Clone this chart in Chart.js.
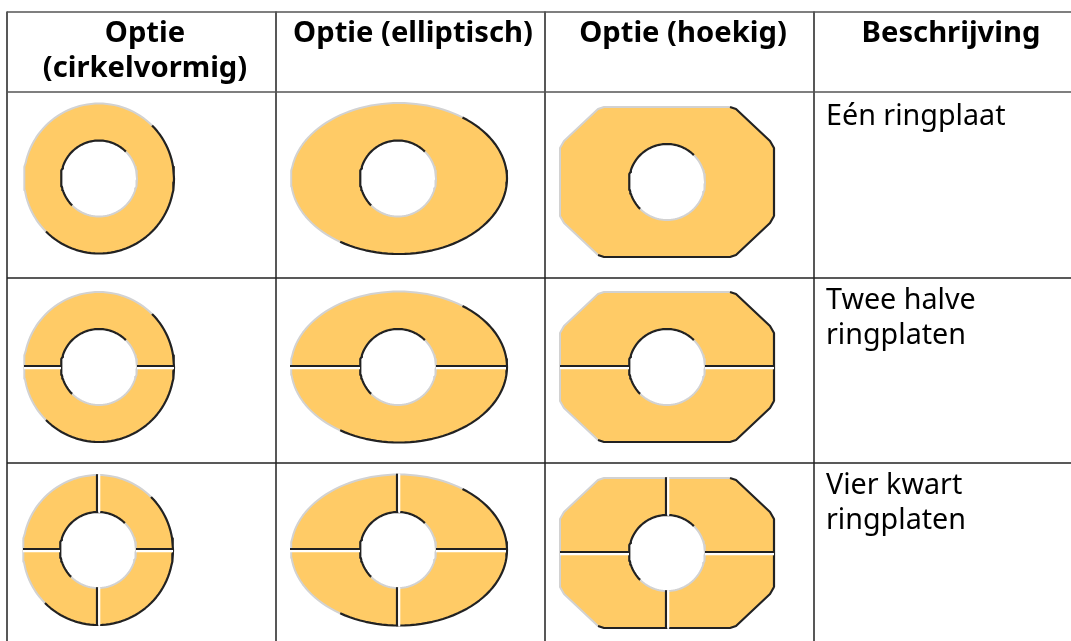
<!DOCTYPE html>
<html><head><meta charset="utf-8">
<style>html,body{margin:0;padding:0;background:#fff;overflow:hidden}canvas{display:block}</style>
<script src="https://cdn.jsdelivr.net/npm/chart.js@4"></script></head>
<body><canvas id="c" width="1071" height="641"></canvas>
<script>
const headerLabels = [["Optie","(cirkelvormig)"],["Optie (elliptisch)"],["Optie (hoekig)"],["Beschrijving"]];
const headerCentersX = [145,413,683,951];
const descriptions = [["Eén ringplaat"],["Twee halve","ringplaten"],["Vier kwart","ringplaten"]];
const descriptionBaselines = [125,309,494];
const descriptionX = 826;
const columnLinesX = [7,276,545,814];
const rowLinesY = [12,92,278,463];
const rowLineColors = ["#555555","#555555","#222222","#222222"];
const centersCircle = [[99,178.5],[99,367],[98,550]];
const centersEllipse = [[399,178.5],[399,367],[399,550]];
const centersOctagon = [[667,182],[667,367],[667,553]];
const radiusCircle = [75,75];
const radiusEllipse = [108,75.5];
const holeRadius = 38;
const slitCounts = [0,2,4];
const octagonShadow = [[63,-75],[69,-73],[103,-41],[107,-34],[107,34],[103,41],[69,73],[63,75],[-63,75],[-69,73]];
const octagonLight = [[-69,73],[-103,41],[-107,34],[-107,-34],[-103,-41],[-69,-73],[-63,-75],[63,-75]];
const PLATE="#FFCB66", DARK="#222222", LIGHT="#D2D2D2", RULE="#222222";

const ds=[];
function line(data,color,width,fillColor){
  ds.push({data,showLine:true,fill:fillColor?'shape':false,backgroundColor:fillColor||'transparent',
    borderColor:color,borderWidth:width,pointRadius:0,pointHoverRadius:0,tension:0,borderCapStyle:'butt',borderJoinStyle:'round'});
}
function arc(c,rx,ry,a0,a1){
  const pts=[];
  for(let a=a0;a<=a1+0.001;a+=3){const t=a*Math.PI/180;pts.push({x:c[0]+rx*Math.cos(t),y:c[1]+ry*Math.sin(t)});}
  return pts;
}
function offs(c,list){return list.map(p=>({x:c[0]+p[0],y:c[1]+p[1]}));}
function hole(c){
  line(arc(c,holeRadius,holeRadius,0,360),'transparent',0,'#FFFFFF');
  line(arc(c,holeRadius,holeRadius,-45,135),LIGHT,2);
  line(arc(c,holeRadius,holeRadius,135,315),DARK,2.2);
}
function slits(c,n,hw,hh){
  if(n<2) return;
  [[-hw,-holeRadius],[holeRadius,hw]].forEach(s=>{
    line([{x:c[0]+s[0],y:c[1]-1},{x:c[0]+s[1],y:c[1]-1}],DARK,2.2);
    line([{x:c[0]+s[0],y:c[1]+1.2},{x:c[0]+s[1],y:c[1]+1.2}],'#FFFFFF',2.2);
  });
  if(n<4) return;
  [[-hh,-holeRadius],[holeRadius,hh]].forEach(s=>{
    line([{x:c[0]-1,y:c[1]+s[0]},{x:c[0]-1,y:c[1]+s[1]}],DARK,2.2);
    line([{x:c[0]+1.2,y:c[1]+s[0]},{x:c[0]+1.2,y:c[1]+s[1]}],'#FFFFFF',2.2);
  });
}
columnLinesX.forEach(x=>line([{x,y:rowLinesY[0]},{x,y:641}],RULE,1.5));
rowLinesY.forEach((y,i)=>line([{x:columnLinesX[0],y},{x:1071,y}],rowLineColors[i],1.5));
[[centersCircle,radiusCircle,[-45,135,315],0],[centersEllipse,radiusEllipse,[-54,123,306],1]].forEach(([cs,r,a,shift])=>{
  cs.forEach((c,i)=>{
    line(arc(c,r[0],r[1],0,360),'transparent',0,PLATE);
    hole([c[0]-shift,c[1]]);
    line(arc(c,r[0],r[1],a[1],a[2]),LIGHT,2);
    line(arc(c,r[0],r[1],a[0],a[1]),DARK,2.2);
    slits([c[0]-shift,c[1]],slitCounts[i],r[0],r[1]);
  });
});
centersOctagon.forEach((c,i)=>{
  line(offs(c,octagonShadow.concat(octagonLight)),'transparent',0,PLATE);
  hole(c);
  line(offs(c,octagonLight),LIGHT,2);
  line(offs(c,octagonShadow),DARK,2.2);
  slits(c,slitCounts[i],107,75);
});
ds.forEach((d,i)=>d.order=ds.length-i);

const textPlugin={id:'tableText',afterDatasetsDraw(chart){
  const {ctx,scales:{x,y}}=chart;
  ctx.save();ctx.fillStyle='#000';ctx.textBaseline='alphabetic';
  ctx.font='bold 29.2px "Noto Sans"';ctx.textAlign='center';
  headerLabels.forEach((ls,i)=>ls.forEach((t,j)=>ctx.fillText(t,x.getPixelForValue(headerCentersX[i]),y.getPixelForValue(42+j*35))));
  ctx.font='28.7px "Noto Sans"';ctx.textAlign='left';
  descriptions.forEach((ls,i)=>ls.forEach((t,j)=>ctx.fillText(t,x.getPixelForValue(descriptionX),y.getPixelForValue(descriptionBaselines[i]+j*35))));
  ctx.restore();
}};
new Chart(document.getElementById('c'),{type:'scatter',data:{datasets:ds},plugins:[textPlugin],options:{
  responsive:false,animation:false,events:[],layout:{padding:0},
  plugins:{legend:{display:false},tooltip:{enabled:false},title:{display:false}},
  scales:{x:{type:'linear',min:0,max:1071,display:false},y:{type:'linear',min:0,max:641,reverse:true,display:false}}
}});
</script></body></html>
